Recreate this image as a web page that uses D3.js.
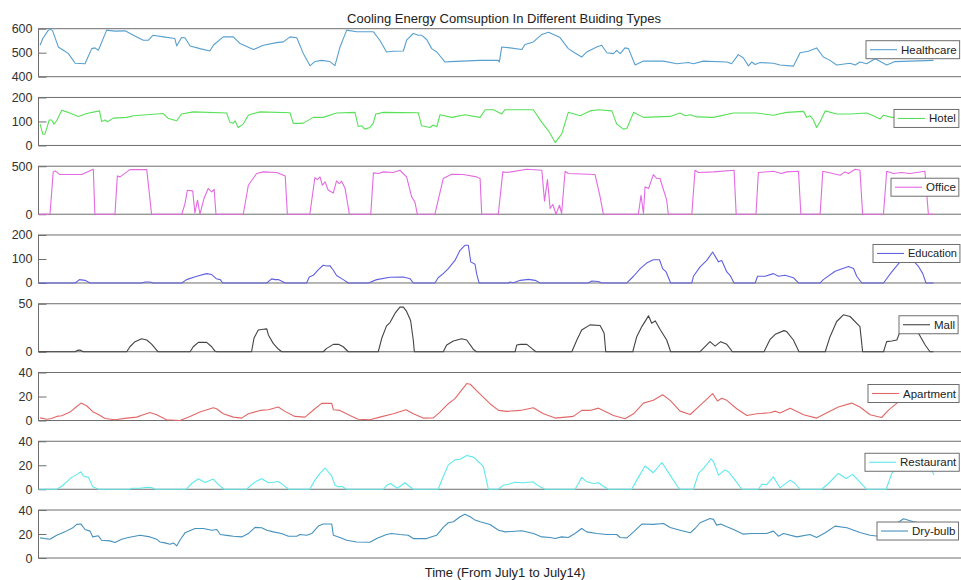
<!DOCTYPE html>
<html>
<head>
<meta charset="utf-8">
<script src="https://cdn.jsdelivr.net/npm/d3@7"></script>
<style>
  body { margin: 0; background: #fff; }
  svg { display: block; font-family: "Liberation Sans", Arial, sans-serif; }
</style>
</head>
<body>
<svg id="chart"></svg>
<script>
// hourly series, July 1 - July 14, read as [hour, value] pairs
let healthcare = [[0.6,531],[1.6,559],[3.7,594],[4.5,598],[5.3,591],[7.4,524],[9.3,510],[11.2,496],[13.7,456],[17.4,454],[19.9,517],[21.1,520],[22.4,510],[25.5,594],[28.6,590],[32.4,591],[35.5,573],[39.2,552],[41.1,552],[42.9,573],[46.7,566],[51,559],[51.7,528],[53.5,563],[54.8,562],[56.7,528],[60.4,517],[64.1,507],[65.4,531],[69.1,566],[72.9,566],[75.4,538],[80.4,513],[84.1,531],[89.1,542],[91.6,545],[94.1,566],[96.6,562],[99.1,496],[101.6,446],[103.4,463],[105.9,468],[109,463],[110.9,446],[112.8,524],[115.3,594],[119,587],[125.3,587],[127.7,552],[130.2,503],[132.7,506],[136.5,507],[137.7,552],[140.2,580],[142.1,573],[143.3,573],[145.2,555],[147.1,517],[149,503],[152.1,461],[154,463],[165.2,468],[172,468],[172.4,461],[173.3,524],[176.4,520],[180.8,513],[182,534],[185.1,545],[188.3,576],[190.8,585],[195.1,563],[198.2,517],[200.7,499],[203.2,482],[205.1,503],[208.8,524],[210.7,531],[212.6,500],[215.1,496],[216.3,510],[217.6,496],[219.4,520],[220.7,517],[223.2,449],[226.3,465],[233.8,465],[238.8,454],[243.1,459],[245,454],[248.7,465],[257.5,461],[259.3,454],[261.8,492],[263.7,478],[265.6,445],[266.8,461],[268.1,451],[269.9,459],[274.9,456],[277.4,449],[282.4,444],[284.9,500],[288,506],[291.1,520],[293.6,482],[296.1,468],[298.6,449],[303.6,456],[305.5,449],[307.3,461],[309.8,454],[313,475],[317.3,449],[320.4,463],[334.8,468]];

let hotel = [[0.6,89],[1.6,47],[2.4,47],[3,68],[4,106],[4.9,106],[5.8,89],[6.8,103],[8.7,147],[10.5,140],[14.9,121],[18,133],[22.8,144],[23.6,100],[24.9,106],[25.8,99],[28,114],[33,117],[35.5,124],[46.7,133],[48.6,112],[51.7,103],[53.5,131],[57.9,140],[70.4,135],[71.6,96],[72.9,93],[73.5,103],[74.7,75],[76.6,89],[78.5,126],[79.8,131],[82.9,140],[94.1,136],[95.3,92],[97.8,92],[99.1,93],[102.8,117],[106.5,117],[111.5,135],[118.4,138],[119.6,79],[120.9,82],[122.1,68],[124,75],[125.2,92],[126.2,131],[129,138],[142.1,136],[143.3,82],[146.4,75],[147.7,85],[149,78],[150.2,128],[154.6,117],[159.5,128],[165.2,117],[167.1,149],[170.2,149],[173.3,131],[174.5,149],[185.1,149],[188.3,96],[190.8,61],[193.3,12],[195.7,47],[198.2,138],[202.6,124],[206.3,144],[209.5,149],[214.5,144],[216.3,89],[218.8,68],[220.1,71],[222.6,138],[226.3,117],[236.3,121],[240,135],[241.9,124],[243.8,128],[246.2,119],[252.5,117],[260,135],[268.7,135],[274.9,126],[279.9,138],[286.2,142],[287.4,117],[288.6,124],[289.9,106],[291.1,75],[292.4,99],[294.3,144],[298.6,131],[303.6,131],[309.8,135],[312.3,124],[314.8,110],[316.1,126],[319.2,117],[326,124],[334.8,125]];

let office = [[0,0],[4.3,0],[5.5,441],[6.2,451],[8,413],[16.2,413],[20.5,469],[21.1,0],[28.6,0],[29.5,399],[30.5,389],[34.2,465],[40.5,465],[42.3,0],[53.6,0],[54.8,111],[55.7,250],[57.7,243],[58.5,14],[59.5,146],[60.4,0],[61.9,163],[63.5,267],[64.8,233],[65.7,260],[66.4,0],[76.6,0],[78.5,302],[81.6,424],[84.1,441],[89.1,434],[92.3,399],[93.1,0],[101.5,0],[103.4,382],[104.3,361],[105.3,389],[106.2,302],[107.2,337],[108.4,250],[110.3,222],[111.5,347],[112.5,319],[113.4,344],[114.7,267],[116.3,0],[124.3,0],[125.3,431],[127.2,424],[129,441],[132.7,434],[135.2,458],[137.7,389],[139.6,181],[140.8,128],[141.7,0],[148.3,0],[151.4,372],[154.5,417],[158.9,413],[163.9,389],[165.2,372],[165.8,0],[172,0],[173.7,441],[175.2,434],[182.7,469],[188.3,458],[189.3,135],[190.4,361],[191.4,59],[192.4,101],[193.6,0],[194.9,94],[195.7,7],[197,448],[198.2,424],[208.2,413],[210.1,181],[211.3,0],[224.4,0],[225.4,198],[226.3,7],[226.9,285],[228.2,267],[230,413],[231.3,372],[232.5,372],[235,146],[235.6,0],[244.4,0],[245.6,458],[246.9,434],[252.5,441],[260.2,458],[261,0],[268.4,0],[269.3,434],[274.9,448],[278,424],[279.9,441],[284.3,448],[285.2,0],[292.4,0],[293.4,448],[295.5,434],[299.9,406],[301.7,441],[303,424],[305.5,469],[307.3,458],[308.3,0],[316.1,0],[317.3,448],[319.8,424],[322.9,434],[326,424],[331.6,448],[332.9,0],[334.8,0]];

let education = [[0,0],[13.7,0],[15.3,14],[17.4,11],[19.3,0],[38.6,0],[39.8,4],[41.7,4],[43,0],[53.6,0],[55.4,14],[59.2,28],[62.9,39],[64.8,35],[66.5,18],[68,14],[68.9,0],[85.4,0],[87.2,17],[88.5,14],[89.7,14],[91.6,4],[92.2,0],[100.3,0],[101.3,25],[102.8,32],[104.7,56],[106.5,74],[107.8,71],[109,72],[110.3,53],[111.5,31],[114,14],[115.9,0],[123.4,0],[126.5,14],[131.5,24],[136.5,25],[139,18],[140.2,0],[148.3,0],[149.5,22],[151.4,39],[153.3,60],[155.8,94],[157.7,136],[159.5,157],[160.8,157],[161.7,88],[163.3,78],[163.9,39],[164.8,0],[175.8,0],[176.4,4],[177.7,1],[180.2,11],[183.3,15],[185.8,11],[187.6,0],[205.7,0],[207,8],[209.5,6],[210.7,0],[220.1,0],[222.6,28],[225.1,60],[227.5,83],[230,97],[232.3,97],[233.5,60],[234.8,46],[236.5,0],[244.4,0],[245,28],[247.5,67],[250,94],[252.2,129],[254.4,88],[255.6,94],[257.5,46],[258.7,32],[260.2,0],[268.1,0],[269,28],[271.8,28],[274.9,39],[276.8,28],[279.3,32],[282.4,22],[284.3,0],[292.4,0],[293.6,14],[298,49],[303,69],[304.9,60],[306.1,28],[308,0],[316.1,0],[319.2,46],[322.3,88],[324.5,100],[327,95],[329.2,69],[330.8,39],[332,0],[334.8,0]];

let mall = [[0,0],[13.7,0],[14.5,1.4],[15.5,1.7],[16.8,0],[33,0],[34.2,5.2],[36.1,10.5],[38.6,13.6],[40.5,12.2],[42.3,8],[44.2,1.7],[44.8,0],[56.7,0],[57.9,5.2],[59.8,9.8],[62.9,9.8],[64.8,5.2],[66,0.7],[66.7,0],[79.7,0],[80.6,14],[82.2,22.7],[84.1,23.4],[85.4,23.8],[86,17.5],[87.8,8.7],[89.7,2.8],[91,0],[106.5,0],[107.8,3.5],[110.3,7.7],[112.2,7.7],[114,5.2],[115.9,0],[127.1,0],[128.4,14],[130.2,26.9],[131.5,30.4],[133.4,40.2],[135.2,46.5],[136.5,46.5],[137.7,42],[139.2,32.5],[140.2,12.2],[140.6,0],[151.4,0],[152.7,7],[155.2,11.2],[158.3,13.6],[160.2,12.2],[162.7,2.4],[163.9,0],[178.3,0],[178.9,7],[180.2,7.7],[182.7,7.7],[184.5,3.5],[186.1,0],[199.5,0],[201.4,12.2],[203.2,22.7],[206.3,28],[210.1,27.3],[211.6,19.2],[212.2,0],[222.3,0],[223.8,15.7],[225.7,26.2],[228.2,37.4],[229.4,29.7],[230.7,32.2],[232.5,23.4],[235,12.2],[236.5,0],[247.5,0],[248.7,3.5],[251.2,10.5],[253.1,5.9],[255.2,10.5],[257.5,7.7],[259.6,0],[271.4,0],[273.7,12.9],[275.6,18.2],[278.9,22],[279.9,21],[282.4,12.2],[284.5,0],[294.3,0],[296.1,15.7],[298.6,31.5],[301.1,38.5],[303.6,36.7],[307.3,26.2],[308.3,0],[316.1,0],[317.3,10.5],[319.2,11.2],[321.1,12.2],[322.3,21],[325,24],[329.2,19.2],[331.7,7],[333.5,0],[334.8,0]];

let apartment = [[0.6,2.2],[3.1,1.1],[4.9,1.7],[6.8,3.4],[8.7,3.9],[11.8,7],[14.3,11.7],[15.9,14.5],[18,12.3],[20.5,7],[22.4,5],[24.9,1.7],[28.6,0.6],[33,2],[36.7,2.8],[39.2,4.8],[41.7,6.7],[44.2,4.8],[47.9,0.6],[52.9,0],[56.7,3.4],[60.4,7],[65.4,10.6],[66.6,9.8],[69.1,5.6],[72.9,2.8],[76,2],[78.5,5.6],[82.9,8.4],[86,9],[89.7,11.2],[92.2,7.6],[95.9,3.4],[99.7,2.8],[103.4,9.8],[105.9,14.3],[109.7,14.3],[110.3,9],[112.8,8.4],[116.5,4.2],[119.6,1.1],[124,0.6],[127.7,2.8],[132.7,5.6],[137.5,9],[140.2,5.6],[143.9,2],[147.7,2.2],[150.2,7],[153.3,14],[155.8,18.2],[160.2,30.8],[161.5,30.2],[165.2,22],[168.9,14],[172.1,8.4],[175.2,7.6],[180.2,8.4],[185.1,10.6],[188.9,5.6],[193.3,2],[200.1,3.4],[203.2,8.4],[206.3,8.4],[209.5,10.3],[215.1,4.2],[219.4,1.4],[222.6,5.6],[226.3,14.5],[230,16.8],[233.5,21.5],[236.3,16.8],[240,7.8],[243.8,5],[247.5,12.6],[252.2,22.4],[254,16.2],[255.6,18.5],[257.5,16.8],[261.2,9.8],[265,4.2],[268.7,5.6],[273.7,6.4],[275.6,7.8],[277.4,6.2],[281.2,10.3],[286.2,4.8],[291.1,2],[295.5,7],[299.2,11.2],[304.2,14.5],[307.3,11.2],[311.1,4.8],[315.4,2.5],[317.9,8.4],[321.1,14.5],[326,20],[334.8,17]];

let restaurant = [[0,0],[6.8,0],[8.7,2.5],[10.5,6.2],[12.4,9.9],[14.5,12.4],[15.8,14.6],[16.8,11],[18.7,9.9],[20.3,2],[21.8,0.6],[22.4,0],[34.2,0],[34.9,0.8],[38,0.8],[40.5,1.7],[42.3,1.4],[43.6,0],[55.2,0],[57.3,4.8],[59.8,8.7],[62.3,5.6],[65.4,8.5],[67.3,3.9],[69.4,0],[77.9,0],[79.7,3.9],[81.6,6.8],[83.5,8.7],[86,5.4],[87.8,5.9],[89.7,6.5],[91.6,3.4],[93.5,0],[101.5,0],[103.4,7.6],[105.3,13.2],[107.2,17.7],[109.7,11],[110.9,3.4],[112.2,2],[113.4,2.5],[115.3,0],[129,0],[130.2,3.1],[131.7,4.8],[134.2,0.8],[137.1,5.4],[138.7,2.5],[140.2,0],[149.5,0],[151.4,10.4],[153.3,20.3],[155.8,24.5],[157.7,25],[160.2,28.2],[162.7,26.8],[165.2,21.7],[166.4,18.9],[167.4,9],[168.3,0],[172,0],[173.9,3.4],[175.8,4.2],[178.3,5.9],[181.4,5.4],[185.1,6.2],[185.8,4.8],[187.6,2],[189.5,0],[200.7,0],[202,4.8],[203.2,9.9],[205.1,6.2],[207.6,4.8],[209.5,5.4],[211.3,2.5],[213.2,0],[221.9,0],[223.8,7.6],[226.9,19.4],[230,13.8],[233.2,22.3],[236.3,11.8],[239.4,1.1],[240,0],[245,0],[246.9,13.2],[249,18],[251.6,25.4],[252.5,23.1],[254.4,11.8],[256.8,16.1],[258.1,14.6],[260.6,7.6],[263.1,0],[269.3,0],[270.6,4.2],[272.4,3.9],[274.9,10.4],[277.4,1.1],[278.7,3.4],[281.2,7.6],[283,4.8],[284.9,0],[293,0],[295.5,4.8],[299.2,13.2],[302.1,9],[304.6,12.4],[309.8,0],[317.1,0],[319.2,13.2],[322,20],[328,20],[334.2,16],[335,11.8]];

let drybulb = [[0.6,16.8],[2.4,16.2],[4.3,15.7],[6.8,19],[9.9,21.8],[13,25.5],[14.3,28],[15.9,28.3],[17.4,23.8],[19.3,22.4],[20.3,17.6],[22.4,18.5],[23.6,14.8],[26.7,14.3],[28.6,12.9],[31.1,15.7],[33.6,17.1],[38,19],[41.7,17.6],[44.2,15.7],[45.4,13.4],[47.3,12.6],[49.2,11.5],[50.5,12.6],[51.7,10.1],[52.9,14.8],[54.8,21],[58.6,24.6],[61.7,24.6],[64.8,23.2],[66.7,23.8],[68,19.6],[71.1,18.7],[72.9,18.2],[76,17.6],[78.5,20.4],[81,25.5],[83.5,25.2],[85.4,23.2],[87.9,21.8],[90.9,20.4],[93.5,18.2],[96.6,18.2],[97.8,19.6],[100.3,19],[102.2,20.4],[104.7,26.6],[106.5,28.3],[109.7,28.3],[110.3,19],[112.8,17.1],[115.3,14.8],[119,13.4],[124,13.1],[126.5,16.2],[130.2,19.6],[132.1,20.4],[135.2,19.6],[138.3,19],[140.2,16.2],[145.2,16.2],[147.7,18.2],[149,19],[151.4,25.5],[153.3,29.4],[155.2,30.2],[157.7,34.4],[159.5,36.4],[161.5,34.4],[163.3,31.6],[165.2,30.2],[168.9,28],[172.1,23.2],[174.6,21.8],[180.8,22.7],[185.2,20.4],[188.3,17.6],[191.4,17.1],[193.3,16.2],[195.7,17.6],[198.2,17.1],[200.7,20.4],[203.2,24.6],[205.1,21.8],[208.8,20.4],[212.6,19.6],[216.3,19.6],[217.6,17.1],[220.1,16.8],[222.6,21.8],[225.7,28.3],[230,28],[233.8,28.8],[236.3,25.5],[240,23.2],[243.8,21],[245.6,24.6],[247.5,29.4],[251.2,33],[252.5,32.2],[253.7,27.4],[255.2,28.3],[257.5,26],[260,23.8],[263.7,19.9],[266.8,20.4],[272.4,20.4],[274.9,22.4],[276.8,18.2],[278.7,20.4],[283.7,17.6],[288.6,19.6],[291.1,17.1],[294.3,21],[298,26.6],[302.4,25.2],[307.3,21.3],[311.1,19],[314.2,18.2],[318,24],[323.6,32.7],[327.3,30.2],[329.8,29.4],[335,28]];

let names = ["Healthcare", "Hotel", "Office", "Education", "Mall", "Apartment", "Restaurant", "Dry-bulb"];
let series = [healthcare, hotel, office, education, mall, apartment, restaurant, drybulb];
let yDomains = [[400, 600], [0, 200], [0, 500], [0, 200], [0, 50], [0, 40], [0, 40], [0, 40]];
let yTicks = [[400, 500, 600], [0, 100, 200], [0, 500], [0, 100, 200], [0, 50], [0, 20, 40], [0, 20, 40], [0, 20, 40]];
let colors = ["#58a0cf", "#58e158", "#e26ae2", "#6060e0", "#444444", "#e26868", "#5fe9ec", "#4691bd"];
let legendX = [866, 894, 891, 873, 899, 868, 865, 877];

let width = 961, height = 580;
let left = 38.5, plotH = 48, firstTop = 28.7, step = 68.76;

let svg = d3.select("#chart").attr("width", width).attr("height", height);

let x = d3.scaleLinear().domain([0, 335]).range([left, 934]);

series.forEach((data, i) => {
  let top = firstTop + i * step;
  let y = d3.scaleLinear().domain(yDomains[i]).range([top + plotH, top]);
  let g = svg.append("g");

  // axes box (right side runs off the picture)
  g.append("rect")
    .attr("x", left).attr("y", top)
    .attr("width", width + 20 - left).attr("height", plotH)
    .attr("fill", "none").attr("stroke", "#6e6e6e").attr("stroke-width", 1);

  let axis = d3.axisLeft(y).tickValues(yTicks[i]).tickSizeInner(-8).tickSizeOuter(0).tickPadding(6);
  let ax = g.append("g").attr("transform", `translate(${left},0)`).call(axis);
  ax.select(".domain").remove();
  ax.selectAll("line").attr("stroke", "#6e6e6e");
  ax.selectAll("text").attr("fill", "#333").style("font-size", "12.5px")
    .style("font-family", "Liberation Sans, Arial, sans-serif");

  g.append("path")
    .datum(data)
    .attr("fill", "none")
    .attr("stroke", colors[i])
    .attr("stroke-width", 1.1)
    .attr("stroke-linejoin", "round")
    .attr("d", d3.line().x((d) => x(d[0])).y((d) => y(d[1])));

  // legend
  let cy = top + (i === 3 ? 18.5 : 21);
  let lg = g.append("g");
  let box = lg.append("rect")
    .attr("x", legendX[i]).attr("y", cy - 9)
    .attr("height", 18)
    .attr("fill", "#fff").attr("stroke", "#6e6e6e").attr("stroke-width", 1);
  lg.append("line")
    .attr("x1", legendX[i] + 4).attr("x2", legendX[i] + 31)
    .attr("y1", cy).attr("y2", cy)
    .attr("stroke", colors[i]).attr("stroke-width", 1.1);
  let t = lg.append("text")
    .attr("x", legendX[i] + 35).attr("y", cy + 4)
    .attr("fill", "#222").style("font-size", i === 3 ? "11px" : "11.5px")
    .text(names[i]);
  let tw = t.node().getComputedTextLength();
  box.attr("width", 35 + tw + 3);
});

svg.append("text")
  .attr("x", 504).attr("y", 22.5)
  .attr("text-anchor", "middle")
  .attr("fill", "#222").style("font-size", "13px")
  .text("Cooling Energy Comsuption In Different Buiding Types");

svg.append("text")
  .attr("x", 505).attr("y", 576.5)
  .attr("text-anchor", "middle")
  .attr("fill", "#222").style("font-size", "13px")
  .text("Time (From July1 to July14)");
</script>
</body>
</html>
